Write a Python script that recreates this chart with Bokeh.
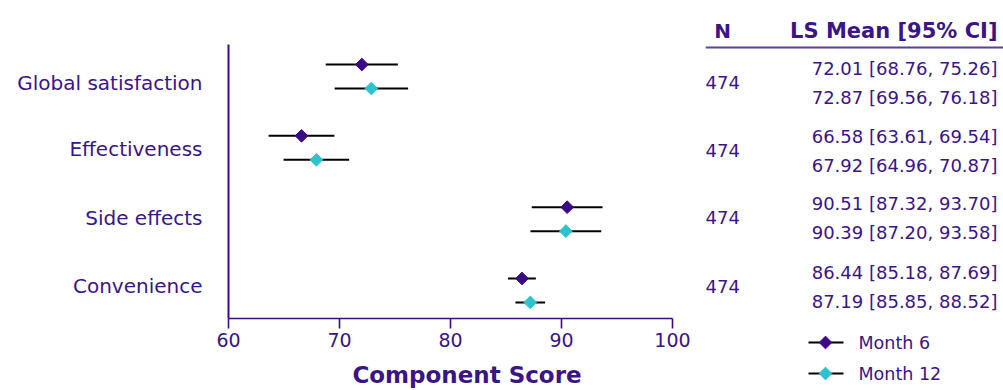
import math
from bokeh.plotting import figure
from bokeh.models import Range1d, FixedTicker, ColumnDataSource
from bokeh.layouts import row
from bokeh.embed import file_html
from bokeh.resources import INLINE
from bokeh.core.properties import value

# ---------------- data ----------------
categories = ["Global satisfaction", "Effectiveness", "Side effects", "Convenience"]
n_values = [474, 474, 474, 474]
m6_mean = [72.01, 66.58, 90.51, 86.44]
m6_lower = [68.76, 63.61, 87.32, 85.18]
m6_upper = [75.26, 69.54, 93.70, 87.69]
m12_mean = [72.87, 67.92, 90.39, 87.19]
m12_lower = [69.56, 64.96, 87.20, 85.85]
m12_upper = [76.18, 70.87, 93.58, 88.52]
x_ticks = [60, 70, 80, 90, 100]
series_names = ["Month 6", "Month 12"]
col_headers = ["N", "LS Mean [95% CI]"]
x_label = "Component Score"

# ---------------- style ----------------
FONT = "DejaVu Sans"
PURPLE = "#3B0B84"
TEXT = "#3A1587"
CYAN = "#2EC1CE"
LINE = "#5E3F9E"

# ---------------- main forest plot ----------------
pos = list(range(len(categories)))
dodge = 0.168
m6_y = [i - dodge for i in pos]
m12_y = [i + dodge for i in pos]
label_shift = [0.084, 0.023, -0.023, -0.056]
label_pos = [i + s for i, s in zip(pos, label_shift)]

# frame extends a bit past 100 (axis drawn only 60..100) so that the
# axis title sits right of the axis centre as in the original
p = figure(width=705, height=390, x_range=Range1d(60, 102.973),
           y_range=Range1d(3.393, -0.449),
           toolbar_location=None, output_backend="svg",
           min_border_left=228, min_border_right=0,
           min_border_top=44, min_border_bottom=72)
p.outline_line_color = None
p.xgrid.visible = False
p.ygrid.visible = False
p.background_fill_color = None
p.border_fill_color = None

s6 = ColumnDataSource(dict(y=m6_y, m=m6_mean, lo=m6_lower, hi=m6_upper))
s12 = ColumnDataSource(dict(y=m12_y, m=m12_mean, lo=m12_lower, hi=m12_upper))
for src, col in ((s6, PURPLE), (s12, CYAN)):
    p.segment(x0="lo", y0="y", x1="hi", y1="y", source=src,
              line_color="black", line_width=2)
    p.scatter(x="m", y="y", source=src, marker="square", size=9,
              angle=math.pi / 4, fill_color=col, line_color=col)

xa = p.xaxis[0]
xa.bounds = (x_ticks[0], x_ticks[-1])
xa.ticker = FixedTicker(ticks=x_ticks)
xa.axis_line_color = PURPLE
xa.axis_line_width = 1.6
xa.major_tick_line_color = PURPLE
xa.major_tick_line_width = 1.6
xa.major_tick_out = 10
xa.major_tick_in = 0
xa.minor_tick_line_color = None
xa.major_label_text_font_size = "19px"
xa.major_label_text_color = TEXT
xa.major_label_text_font = FONT
xa.major_label_standoff = 4
xa.axis_label = x_label
xa.axis_label_standoff = 12
xa.axis_label_text_font_size = "23px"
xa.axis_label_text_font_style = "bold"
xa.axis_label_text_font = FONT
xa.axis_label_text_color = TEXT

ya = p.yaxis[0]
ya.ticker = FixedTicker(ticks=label_pos)
ya.major_label_overrides = {lp: c for lp, c in zip(label_pos, categories)}
ya.axis_line_color = PURPLE
ya.axis_line_width = 2
ya.major_tick_out = 0
ya.major_tick_in = 0
ya.major_tick_line_color = None
ya.minor_tick_line_color = None
ya.major_label_text_font_size = "20px"
ya.major_label_text_color = TEXT
ya.major_label_text_font = FONT
ya.major_label_standoff = 26

# ---------------- table + legend ----------------
t = figure(width=298, height=390, x_range=Range1d(0, 298), y_range=Range1d(390, 0),
           toolbar_location=None, output_backend="svg", min_border=0,
           x_axis_type=None, y_axis_type=None)
t.frame_align = False
t.outline_line_color = None
t.background_fill_color = None
t.border_fill_color = None

# header
t.text(x=[17], y=[30], text=[col_headers[0]], text_font=value(FONT),
       text_font_size="20px", text_font_style="bold", text_color=TEXT,
       text_align="center", text_baseline="middle")
t.text(x=[292], y=[30], text=[col_headers[1]], text_font=value(FONT),
       text_font_size="21px", text_font_style="bold", text_color=TEXT,
       text_align="right", text_baseline="middle")
t.segment(x0=[0], y0=[47], x1=[298], y1=[47], line_color=LINE, line_width=2)

row_c = [82, 150, 217, 286]
t.text(x=[0] * len(n_values), y=row_c, text=[str(n) for n in n_values],
       text_font=value(FONT), text_font_size="18px", text_color=TEXT,
       text_align="left", text_baseline="middle")
v6 = [f"{m:.2f} [{l:.2f}, {u:.2f}]" for m, l, u in zip(m6_mean, m6_lower, m6_upper)]
v12 = [f"{m:.2f} [{l:.2f}, {u:.2f}]" for m, l, u in zip(m12_mean, m12_lower, m12_upper)]
t.text(x=[292] * 4, y=[c - 14.5 for c in row_c], text=v6,
       text_font=value(FONT), text_font_size="18px", text_color=TEXT,
       text_align="right", text_baseline="middle")
t.text(x=[292] * 4, y=[c + 14.5 for c in row_c], text=v12,
       text_font=value(FONT), text_font_size="18px", text_color=TEXT,
       text_align="right", text_baseline="middle")

# legend
leg_y = [342, 373]
t.segment(x0=[103, 103], y0=leg_y, x1=[138, 138], y1=leg_y,
          line_color="black", line_width=2)
t.scatter(x=[120, 120], y=leg_y, marker="square", size=9, angle=math.pi / 4,
          fill_color=[PURPLE, CYAN], line_color=[PURPLE, CYAN])
t.text(x=[153, 153], y=leg_y, text=series_names, text_font=value(FONT),
       text_font_size="17.5px", text_color=TEXT, text_align="left",
       text_baseline="middle")

layout = row(p, t, spacing=0)
open("out.html", "w").write(file_html(layout, INLINE))
